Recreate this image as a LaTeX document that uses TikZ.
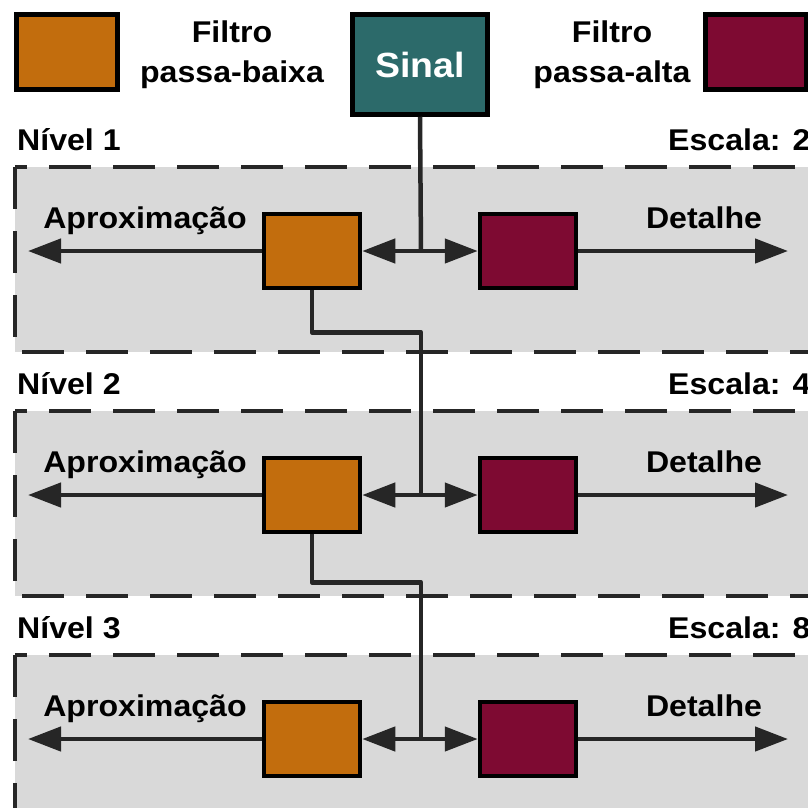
\documentclass[tikz,border=0pt]{standalone}
\usepackage{fontspec}
\newfontfamily\lbl[FakeStretch=1.07]{Liberation Sans Bold}
\usetikzlibrary{arrows.meta,positioning}

\definecolor{lowpass}{HTML}{C26D0D}
\definecolor{highpass}{HTML}{7E0A32}
\definecolor{sigfill}{HTML}{2C6A6A}
\definecolor{band}{HTML}{D9D9D9}
\definecolor{wirecol}{HTML}{262626}

\begin{document}
\begin{tikzpicture}[x=1pt,y=-1pt,>={Triangle[length=33pt,width=24pt]},
    font=\lbl\fontsize{30}{36}\selectfont,
    filt/.style={draw=black,line width=4.5pt,minimum width=96pt,minimum height=74pt,inner sep=0pt},
    low/.style={filt,fill=lowpass},
    high/.style={filt,fill=highpass},
    wire/.style={draw=wirecol,line width=4.5pt,line join=round},
    level/.style={draw=wirecol,fill=band,line width=4.5pt,dash pattern=on 42pt off 22pt},
    txt/.style={inner sep=0pt}]

    \useasboundingbox (0,0) rectangle (808,807);
    \clip (0,0) rectangle (808,807);

    % legenda
    \node[low,minimum width=101pt,minimum height=75pt]  (leglow)  at (67,52)  {};
    \node[txt,align=center,font=\lbl\fontsize{30}{40}\selectfont] (leglowtxt) at (232,55) {Filtro\\passa-baixa};
    \node[filt,fill=sigfill,minimum width=135pt,minimum height=100pt,text=white,font=\lbl\fontsize{35}{40}\selectfont] (sig) at (420,64.5) {Sinal};
    \node[txt,align=center,font=\lbl\fontsize{30}{40}\selectfont] (leghightxt) at (612,55) {Filtro\\passa-alta};
    \node[high,minimum width=101pt,minimum height=75pt] (leghigh) at (756,52) {};

    % niveis
    \foreach \k in {1,2,3} {
        \pgfmathsetmacro\ytop{167+244*(\k-1)}
        \pgfmathsetmacro\ymid{\ytop+84}
        \pgfmathtruncatemacro\esc{2^\k}
        \draw[level] (15,\ytop) rectangle (860,\ytop+185);
        \node[txt,anchor=base west] (niv\k) at (17,\ytop-17) {Nível \k};
        \node[txt,anchor=base west] (esc\k) at (668,\ytop-17) {Escala: \esc};
        \node[low]  (lp\k) at (312,\ymid) {};
        \node[high] (hp\k) at (528,\ymid) {};
        \coordinate (j\k)  at (421,\ymid);
        \coordinate (ap\k) at (28,\ymid);
        \coordinate (dt\k) at (788,\ymid);
        \node[txt,anchor=base] (aptxt\k) at (145,\ymid-23) {Aproximação};
        \node[txt,anchor=base] (dttxt\k) at (704,\ymid-23) {Detalhe};
        \draw[wire,->] (lp\k.west) -- (ap\k);
        \draw[wire,->] (hp\k.east) -- (dt\k);
    }

    % ligacoes
    \draw[wire] (sig.south) -- (j1);
    \foreach \k/\nxt/\drop in {1/2/42,2/3/48} {
        \draw[wire] (lp\k.south) -- ++(0,\drop) -| (j\nxt);
    }
    \foreach \k in {1,2,3} {
        \draw[wire,->] (j\k) -- (lp\k.east);
        \draw[wire,->] (j\k) -- (hp\k.west);
    }

\end{tikzpicture}
\end{document}
